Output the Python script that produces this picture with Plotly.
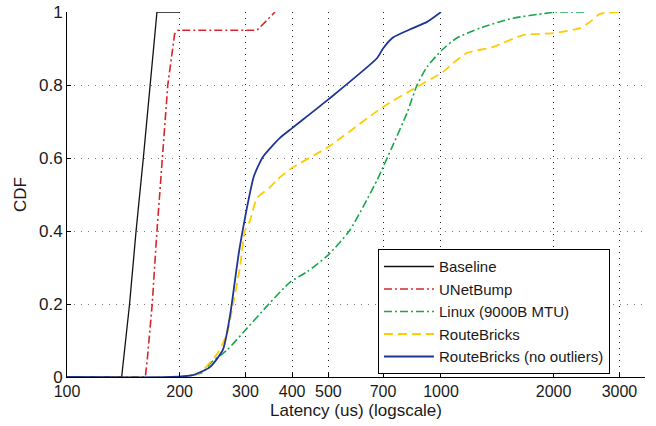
import plotly.graph_objects as go

# ---- data ----
baseline_x = [100, 140, 147, 153, 160, 167, 174, 200]
baseline_y = [0, 0, 0.2, 0.4, 0.6, 0.8, 1.0, 1.0]

unet_x = [100, 162, 164, 169, 174, 180, 186, 194, 198, 322, 338, 360]
unet_y = [0, 0, 0.05, 0.2, 0.4, 0.6, 0.8, 0.94, 0.95, 0.95, 0.973, 1.0]

linux_x = [100, 200, 230, 243, 268, 296, 343, 395, 438, 499, 571, 675, 700, 740,
           811, 863, 918, 1006, 1103, 1272, 1557, 1920, 2043, 2420]
linux_y = [0, 0, 0.012, 0.04, 0.074, 0.122, 0.195, 0.26, 0.288, 0.334, 0.403, 0.54,
           0.575, 0.63, 0.723, 0.8, 0.85, 0.896, 0.929, 0.956, 0.983, 0.997, 1.0, 1.0]

rb_x = [100, 195, 225, 253, 268, 278, 290, 299, 309, 322, 349, 364, 400, 499, 700,
        863, 1012, 1077, 1174, 1377, 1657, 1993, 2353, 2503, 2662, 3010]
rb_y = [0, 0, 0.01, 0.066, 0.12, 0.2, 0.3, 0.4, 0.43, 0.49, 0.52, 0.54, 0.573, 0.63,
        0.74, 0.795, 0.836, 0.86, 0.888, 0.904, 0.937, 0.942, 0.956, 0.973, 0.995, 1.0]

rbno_x = [100, 190, 217, 227, 241, 261, 273, 280, 288, 296, 305, 316, 334, 371, 400,
          499, 675, 700, 744, 842, 918, 1000]
rbno_y = [0, 0, 0.005, 0.013, 0.027, 0.074, 0.17, 0.25, 0.34, 0.41, 0.48, 0.55, 0.603,
          0.655, 0.682, 0.76, 0.874, 0.9, 0.93, 0.956, 0.973, 1.0]

x_ticks = [100, 200, 300, 400, 500, 700, 1000, 2000, 3000]
y_ticks = [0, 0.2, 0.4, 0.6, 0.8, 1]

FONT = "Liberation Sans, Arial, Helvetica, sans-serif"

fig = go.Figure()
fig.add_trace(go.Scatter(x=baseline_x, y=baseline_y, mode="lines", name="Baseline",
                         line=dict(color="#111111", width=1.3)))
fig.add_trace(go.Scatter(x=unet_x, y=unet_y, mode="lines", name="UNetBump",
                         line=dict(color="#d8262e", width=1.6, dash="8px,3px,2px,3px")))
fig.add_trace(go.Scatter(x=linux_x, y=linux_y, mode="lines", name="Linux (9000B MTU)",
                         line=dict(color="#16a84a", width=1.6, dash="8px,3px,2px,3px",
                                   shape="spline", smoothing=0.6)))
fig.add_trace(go.Scatter(x=rb_x, y=rb_y, mode="lines", name="RouteBricks",
                         line=dict(color="#ffcc00", width=1.8, dash="9px,5px",
                                   shape="spline", smoothing=0.6)))
fig.add_trace(go.Scatter(x=rbno_x, y=rbno_y, mode="lines", name="RouteBricks (no outliers)",
                         line=dict(color="#1f3596", width=1.8,
                                   shape="spline", smoothing=0.6)))

fig.update_layout(
    width=656, height=426,
    margin=dict(l=67, r=11, t=12, b=49, autoexpand=False),
    paper_bgcolor="white", plot_bgcolor="white",
    font=dict(family=FONT, size=17, color="#1a1a1a"),
    showlegend=True,
    legend=dict(x=0.538, y=0.350, xanchor="left", yanchor="top",
                bgcolor="white", bordercolor="black", borderwidth=1,
                font=dict(size=15), tracegroupgap=0, itemwidth=50),
    xaxis=dict(type="log", range=[2, 3.5455], tickvals=x_ticks,
               ticktext=[str(v) for v in x_ticks], automargin=False,
               showline=True, linecolor="black", linewidth=1, mirror=False,
               ticks="inside", ticklen=4, tickcolor="black",
               tickfont=dict(size=16),
               showgrid=True, gridcolor="#222222", gridwidth=1, griddash="1px,5px",
               zeroline=False, ticklabeloverflow="allow",
               title=dict(text="Latency (us) (logscale)", standoff=4,
                          font=dict(size=17))),
    yaxis=dict(range=[0, 1.0001], tickvals=y_ticks,
               ticktext=["0", "0.2", "0.4", "0.6", "0.8", "1"], automargin=False,
               showline=True, linecolor="black", linewidth=1, mirror=False,
               ticks="inside", ticklen=4, tickcolor="black",
               tickfont=dict(size=17),
               showgrid=True, gridcolor="#777777", gridwidth=1, griddash="1px,6px",
               zeroline=False, ticklabeloverflow="allow",
               title=dict(text="CDF", standoff=8, font=dict(size=17))),
)

# remove the default 8px page margin so the figure fills the window exactly
fig.write_html("out.html", config={"displayModeBar": False},
               post_script="document.body.style.margin='0';")
